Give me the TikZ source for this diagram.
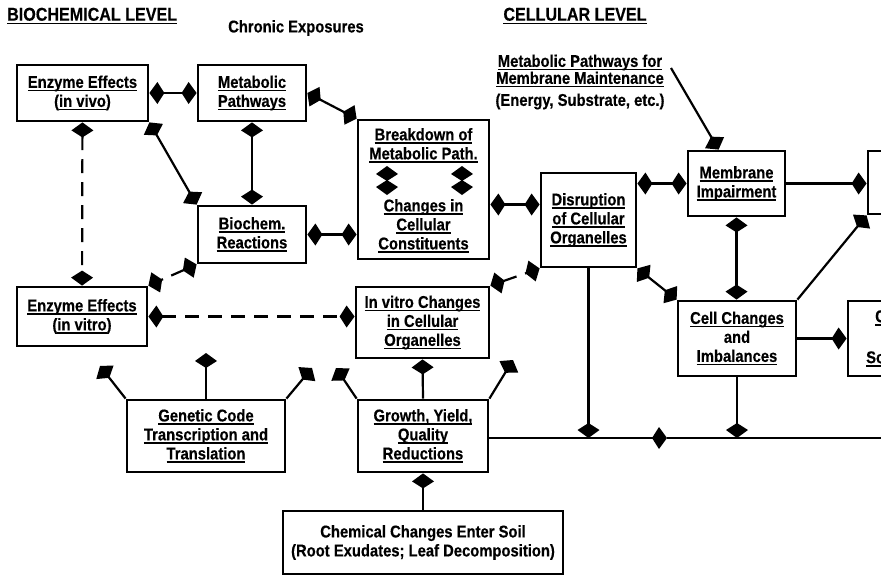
\documentclass[tikz,border=0pt]{standalone}
\usepackage{fontspec}
\setmainfont{Liberation Sans}[FakeStretch=0.87,FakeBold=0.4]
\usetikzlibrary{arrows.meta}
\newsavebox\ulbox
\newcommand\uln[1]{\sbox\ulbox{#1}\rlap{\rule[-3.6pt]{\wd\ulbox}{1.5pt}}\usebox\ulbox}
\begin{document}
\begin{tikzpicture}[x=1pt,y=-1pt,
  box/.style={draw, line width=2.8pt, align=center, inner sep=0pt, font=\bfseries\fontsize{17}{19}\selectfont},
  txt/.style={align=center, inner sep=0pt, font=\bfseries\fontsize{17}{19}\selectfont},
  ttl/.style={inner sep=0pt, font=\bfseries\fontsize{18.5}{20}\selectfont},
  conn/.style={line width=2.2pt, >={Kite[length=15pt,width=22pt,inset=7pt]}},
  dbl/.style={conn,<->},
  one/.style={conn,->},
  dsh/.style={dash pattern=on 14pt off 9pt}]
\useasboundingbox (0,0) rectangle (881,576);
\clip (0,0) rectangle (881,576);

% titles
\node[ttl, anchor=west] (t1) at (7,16) {\uln{BIOCHEMICAL LEVEL}};
\node[txt] (t2) at (296,28) {Chronic Exposures};
\node[ttl] (t3) at (575,16) {\uln{CELLULAR LEVEL}};
\node[txt, font=\bfseries\fontsize{17}{17}\selectfont] (mplabel) at (580,82)
  {\uln{Metabolic Pathways for}\\\uln{Membrane Maintenance}\\[5pt](Energy, Substrate, etc.)};

% boxes
\node[box, minimum width=131pt, minimum height=56pt] (invivo) at (82.5,93) {\uln{Enzyme Effects}\\(\uln{in vivo})};
\node[box, minimum width=108pt, minimum height=56pt] (metpath) at (252,93) {\uln{Metabolic}\\\uln{Pathways}};
\node[box, minimum width=131pt, minimum height=139pt] (breakdown) at (423.5,189.5) {};
\node[txt] (bdtop) at (423.5,145.5) {\uln{Breakdown of}\\\uln{Metabolic Path.}};
\node[txt] (bdbot) at (423.5,226) {\uln{Changes in}\\\uln{Cellular}\\\uln{Constituents}};
\node[box, minimum width=108pt, minimum height=57pt] (biochem) at (252,234.5) {\uln{Biochem.}\\\uln{Reactions}};
\node[box, minimum width=130pt, minimum height=59pt] (invitro) at (82,316.5) {\uln{Enzyme Effects}\\(\uln{in vitro})};
\node[box, minimum width=133pt, minimum height=71pt] (ivchanges) at (422.5,322.5) {\uln{In vitro Changes}\\\uln{in Cellular}\\\uln{Organelles}};
\node[box, minimum width=95pt, minimum height=94pt] (disruption) at (588.5,220) {\uln{Disruption}\\\uln{of Cellular}\\\uln{Organelles}};
\node[box, minimum width=97pt, minimum height=65pt] (membrane) at (736.5,183.5) {\uln{Membrane}\\\uln{Impairment}};
\node[box, minimum width=118pt, minimum height=75pt] (cell) at (737,338.5) {\uln{Cell Changes}\\and\\\uln{Imbalances}};
\node[box, minimum width=158pt, minimum height=72pt] (genetic) at (206,436) {\uln{Genetic Code}\\\uln{Transcription and}\\\uln{Translation}};
\node[box, minimum width=130pt, minimum height=72pt] (growth) at (423,436) {\uln{Growth, Yield,}\\\uln{Quality}\\\uln{Reductions}};
\node[box, minimum width=280pt, minimum height=63pt] (chemical) at (423,542.5) {Chemical Changes Enter Soil\\(Root Exudates; Leaf Decomposition)};
\node[box, minimum width=60pt, minimum height=63pt] (righttop) at (898,182.5) {};
\node[box, minimum width=60pt, minimum height=75pt] (rightbot) at (878,338.5) {};
\node[txt, anchor=west] (rb1) at (875,318) {\uln{C}};
\node[txt, anchor=west] (rb2) at (866,359) {\uln{Sc}};

% free ends
\coordinate (g1) at (100,366);
\coordinate (g2) at (206,353);
\coordinate (g3) at (312,368);
\coordinate (w1) at (336,368);
\coordinate (w3) at (513,360);
\coordinate (lmid) at (667,438);
\coordinate (lend) at (890,438);
\coordinate (mpstart) at (671,68);
\coordinate (bl1) at (387,166);
\coordinate (bl2) at (387,195);
\coordinate (br1) at (462,166);
\coordinate (br2) at (462,195);

% connectors
\draw[dbl] (invivo) -- (metpath);
\draw[dbl] (metpath.east) -- (breakdown.north west);
\draw[dbl,dsh] (invivo) -- (invitro);
\draw[dbl] (invivo.south east) -- (biochem.north west);
\draw[dbl] (metpath) -- (biochem);
\draw[dbl] (biochem.east) -- (biochem.east -| breakdown.west);
\draw[dbl,dsh] (biochem.south west) -- (invitro.north east);
\draw[dbl,dsh] (invitro.east) -- (invitro.east -| ivchanges.west);
\draw[dbl] ([yshift=-15pt]breakdown.east) -- ([yshift=-15pt]breakdown.east -| disruption.west);
\draw[dbl,dsh] (ivchanges.north east) -- (disruption.south west);
\draw[dbl] (membrane.west -| disruption.east) -- (membrane.west);
\draw[dbl] (membrane.south) -- (membrane.south |- cell.north);
\draw[dbl] (disruption.south east) -- (cell.north west);
\draw[one] (membrane.east) -- (membrane.east -| righttop.west);
\draw[one] (cell.north east) -- (righttop.south west);
\draw[one] (cell.east) -- (cell.east -| rightbot.west);
\draw[one] (mpstart) -- ([xshift=32pt]membrane.north west);
\draw[dbl] (bl1) -- (bl2);
\draw[dbl] (br1) -- (br2);
\draw[one] (disruption.south) -- (disruption.south |- lmid);
\draw[one] (cell.south) -- (cell.south |- lmid);
\draw[one] (growth.east |- lmid) -- (lmid);
\draw[conn] (lmid) -- (lend);
\draw[one] (genetic.north west) -- (g1);
\draw[one] (genetic.north) -- (g2);
\draw[one] (genetic.north east) -- (g3);
\draw[one] (growth.north west) -- (w1);
\draw[one] (growth.north) -- (ivchanges.south);
\draw[one] (growth.north east) -- (w3);
\draw[one] (chemical.north) -- (growth.south);
\end{tikzpicture}
\end{document}
